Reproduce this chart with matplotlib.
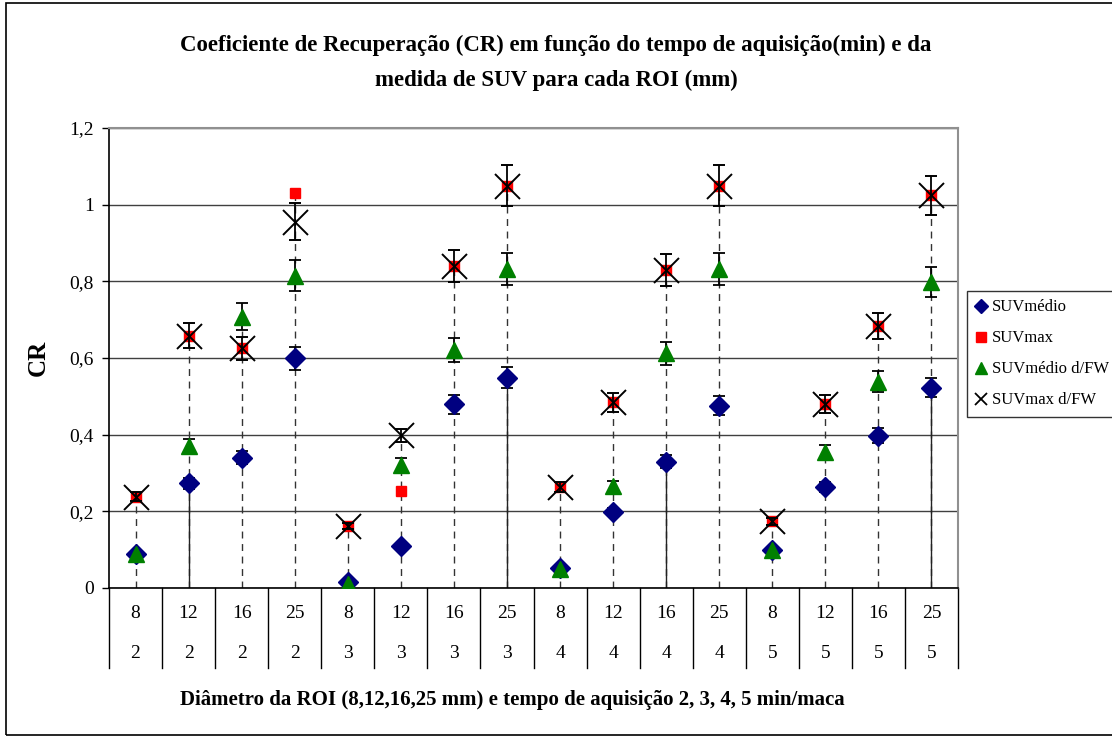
import matplotlib.pyplot as plt
import matplotlib.transforms as mtransforms
from matplotlib.patches import Rectangle
from matplotlib.lines import Line2D
import numpy as np

# categories: ROI diameter (mm) and acquisition time (min)
roi = ["8", "12", "16", "25", "8", "12", "16", "25", "8", "12", "16", "25", "8", "12", "16", "25"]
tempo = ["2", "2", "2", "2", "3", "3", "3", "3", "4", "4", "4", "4", "5", "5", "5", "5"]

suv_medio = [0.090, 0.273, 0.340, 0.599, 0.016, 0.109, 0.479, 0.549,
             0.052, 0.199, 0.329, 0.476, 0.098, 0.264, 0.397, 0.523]
suv_max = [0.238, 0.658, 0.625, 1.030, 0.161, 0.253, 0.839, 1.050,
           0.264, 0.484, 0.830, 1.050, 0.174, 0.480, 0.684, 1.024]
suv_medio_fw = [0.090, 0.370, 0.708, 0.815, 0.011, 0.322, 0.621, 0.833,
                0.050, 0.266, 0.612, 0.833, 0.098, 0.354, 0.538, 0.798]
suv_max_fw = [0.238, 0.658, 0.625, 0.956, 0.161, 0.399, 0.839, 1.050,
              0.264, 0.484, 0.830, 1.050, 0.174, 0.480, 0.684, 1.024]

err_medio = [0.005, 0.014, 0.017, 0.030, 0.001, 0.006, 0.024, 0.028,
             0.003, 0.010, 0.017, 0.024, 0.005, 0.013, 0.020, 0.026]
err_medio_fw = [0.005, 0.018, 0.035, 0.041, 0.001, 0.016, 0.031, 0.042,
                0.003, 0.013, 0.031, 0.042, 0.005, 0.018, 0.027, 0.040]
err_max_fw = [0.012, 0.033, 0.031, 0.048, 0.008, 0.017, 0.042, 0.053,
              0.013, 0.024, 0.042, 0.053, 0.009, 0.024, 0.034, 0.051]

series_names = ["SUVmédio", "SUVmax", "SUVmédio d/FW", "SUVmax d/FW"]

# drop line drawn solid up to SUVmédio in these categories
solid_drop = [False, True, False, False, False, False, False, True,
              False, False, True, False, False, False, False, True]

plt.rcParams['font.family'] = ['Liberation Serif', 'DejaVu Serif']

fig = plt.figure(figsize=(11.12, 7.38), dpi=100)
ax = fig.add_axes([109/1112, 150/738, 849/1112, 460/738])

x = np.arange(len(roi))
top = np.max([suv_medio, suv_max, suv_medio_fw, suv_max_fw], axis=0)

# drop lines
for i in x:
    ax.plot([i, i], [0, top[i]], color="#333333", lw=1, ls=(0, (5, 4)), zorder=2)
    if solid_drop[i]:
        ax.plot([i, i], [0, suv_medio[i]], color="#222222", lw=1, zorder=2)

ekw = dict(ecolor="black", elinewidth=1.3, capsize=4, capthick=1.3, ls="none")
ax.errorbar(x, suv_medio, yerr=err_medio, marker="D", ms=10, color="#000080",
            mec="#000080", zorder=4, **ekw)
ax.plot(x, suv_max, "s", ms=7, color="#ff0000", zorder=5)
ax.errorbar(x, suv_medio_fw, yerr=err_medio_fw, marker="^", ms=11.5, color="#008000",
            mec="#008000", zorder=4, **ekw)
ax.errorbar(x, suv_max_fw, yerr=err_max_fw, marker="x", ms=18, mew=1.4, color="black",
            zorder=6, **ekw)

ax.set_xlim(-0.5, len(roi) - 0.5)
ax.set_ylim(0, 1.2)
ax.set_yticks(np.arange(0, 1.21, 0.2))
ax.set_yticklabels(["0", "0,2", "0,4", "0,6", "0,8", "1", "1,2"], fontsize=14)
ax.tick_params(axis="y", direction="out", length=5, width=1, pad=6)
ax.set_xticks([])
ax.yaxis.grid(True, color="#404040", lw=1)
ax.set_axisbelow(True)
for s in ["top", "right"]:
    ax.spines[s].set_color("#909090")
    ax.spines[s].set_linewidth(1.5)
for s in ["left", "bottom"]:
    ax.spines[s].set_color("black")
    ax.spines[s].set_linewidth(1.2)

# category table under the axis
trans = mtransforms.blended_transform_factory(ax.transData, ax.transAxes)
for b in np.arange(-0.5, len(roi), 1.0):
    ax.plot([b, b], [0, -80/460], color="black", lw=1, transform=trans, clip_on=False)
for i in x:
    ax.text(i, -25/460, roi[i], transform=trans, ha="center", va="center", fontsize=14)
    ax.text(i, -65/460, tempo[i], transform=trans, ha="center", va="center", fontsize=14)

ax.set_ylabel("CR", fontsize=18, fontweight="bold", labelpad=14)

fig.text(0.5, 1 - 45/738, "Coeficiente de Recuperação (CR) em função do tempo de aquisição(min) e da",
         ha="center", va="center", fontsize=16.5, fontweight="bold")
fig.text(0.5, 1 - 80/738, "medida de SUV para cada ROI (mm)",
         ha="center", va="center", fontsize=16.5, fontweight="bold")
fig.text(512/1112, 1 - 700/738, "Diâmetro da ROI (8,12,16,25 mm) e tempo de aquisição 2, 3, 4, 5 min/maca",
         ha="center", va="center", fontsize=15, fontweight="bold")

handles = [
    Line2D([], [], ls="none", marker="D", ms=7, color="#000080"),
    Line2D([], [], ls="none", marker="s", ms=7, color="#ff0000"),
    Line2D([], [], ls="none", marker="^", ms=8, color="#008000"),
    Line2D([], [], ls="none", marker="x", ms=8, mew=1.3, color="black"),
]
leg = fig.legend(handles, series_names, loc="upper left", bbox_to_anchor=(967/1112, 1 - 291/738),
                 fontsize=12, frameon=True, fancybox=False,
                 borderpad=0.5, labelspacing=0.9, handlelength=0.7, handletextpad=0.3,
                 borderaxespad=0)
leg.get_frame().set_edgecolor("black")
leg.get_frame().set_linewidth(1)

# outer chart frame
fig.patches.append(Rectangle((6/1112, 3/738), 1.2, 1 - 6/738, transform=fig.transFigure,
                             fill=False, edgecolor="black", lw=1.2))

fig.savefig("out.png", dpi=100)
